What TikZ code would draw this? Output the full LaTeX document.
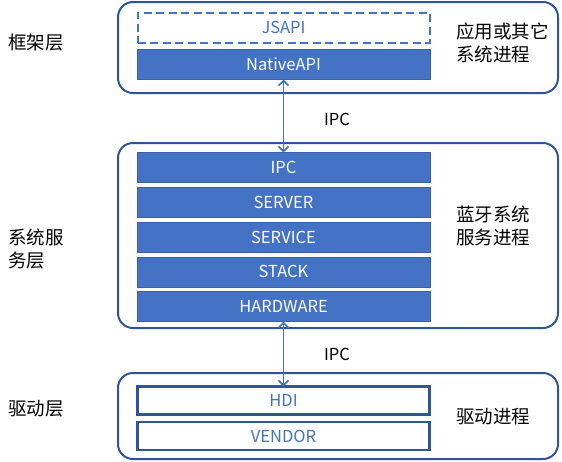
\documentclass[tikz,border=0pt]{standalone}
\usepackage{fontspec}
\setmainfont{Noto Sans CJK SC}
\usetikzlibrary{arrows.meta}
\definecolor{barblue}{HTML}{4472C4}
\definecolor{darkblue}{HTML}{2F5597}
\tikzset{
  container/.style={draw=darkblue, line width=2pt, rounded corners=15pt, inner sep=0pt, outer sep=0pt, minimum width=440pt},
  bar/.style={fill=barblue, draw=barblue!85!black, line width=0.5pt, text=white, font=\fontsize{16.5}{19}\selectfont, minimum width=293pt, minimum height=30pt, inner sep=0pt, outer sep=0pt},
  dashbar/.style={draw=barblue, dash pattern=on 8pt off 4.5pt, line width=2pt, text=barblue, font=\fontsize{16.5}{19}\selectfont, minimum width=292pt, minimum height=30pt, inner sep=0pt, outer sep=0pt},
  whitebar/.style={draw=darkblue, fill=white, line width=2.2pt, text=barblue, font=\fontsize{16.5}{19}\selectfont, minimum width=292pt, minimum height=28pt, inner sep=0pt, outer sep=0pt},
  cjklabel/.style={font=\fontsize{18.5}{23}\selectfont, align=left, inner sep=0pt},
  ipclabel/.style={font=\fontsize{16.5}{19}\selectfont, inner sep=0pt},
  link/.style={draw=barblue, line width=1.7pt, {Straight Barb[length=5pt,width=10pt]}-{Straight Barb[length=5pt,width=10pt]}}
}
\begin{document}
\begin{tikzpicture}[x=1pt,y=-1pt]
\useasboundingbox (0,0) rectangle (562,461);
% containers
\node[container, minimum height=91pt] (top) at (338,47.5) {};
\node[container, minimum height=185pt] (mid) at (338,235.5) {};
\node[container, minimum height=86pt] (bot) at (338,416) {};
% top bars
\node[dashbar] (jsapi) at (283.5,27.5) {JSAPI};
\node[bar] (native) at (283.5,64.5) {NativeAPI};
% middle bars
\node[bar] (ipc) at (283.5,167.5) {IPC};
\node[bar] (server) at (283.5,202.3) {SERVER};
\node[bar] (service) at (283.5,237) {SERVICE};
\node[bar] (stack) at (283.5,271.8) {STACK};
\node[bar] (hardware) at (283.5,306.5) {HARDWARE};
% bottom bars
\node[whitebar] (hdi) at (283.5,400.5) {HDI};
\node[whitebar] (vendor) at (283.5,436.3) {VENDOR};
% links
\draw[link] (native.south) -- (ipc.north);
\draw[link] (hardware.south) -- (hdi.north);
\node[ipclabel] (ipc1) at (337,119) {IPC};
\node[ipclabel] (ipc2) at (337,354) {IPC};
% left labels
\node[cjklabel, anchor=west] (l1) at (8,43) {框架层};
\node[cjklabel, anchor=west] (l2) at (8,249) {系统服\\务层};
\node[cjklabel, anchor=west] (l3) at (8,409) {驱动层};
% right labels
\node[cjklabel, anchor=west] (r1) at (456,43) {应用或其它\\系统进程};
\node[cjklabel, anchor=west] (r2) at (456,226) {蓝牙系统\\服务进程};
\node[cjklabel, anchor=west] (r3) at (456,417) {驱动进程};
\end{tikzpicture}
\end{document}
